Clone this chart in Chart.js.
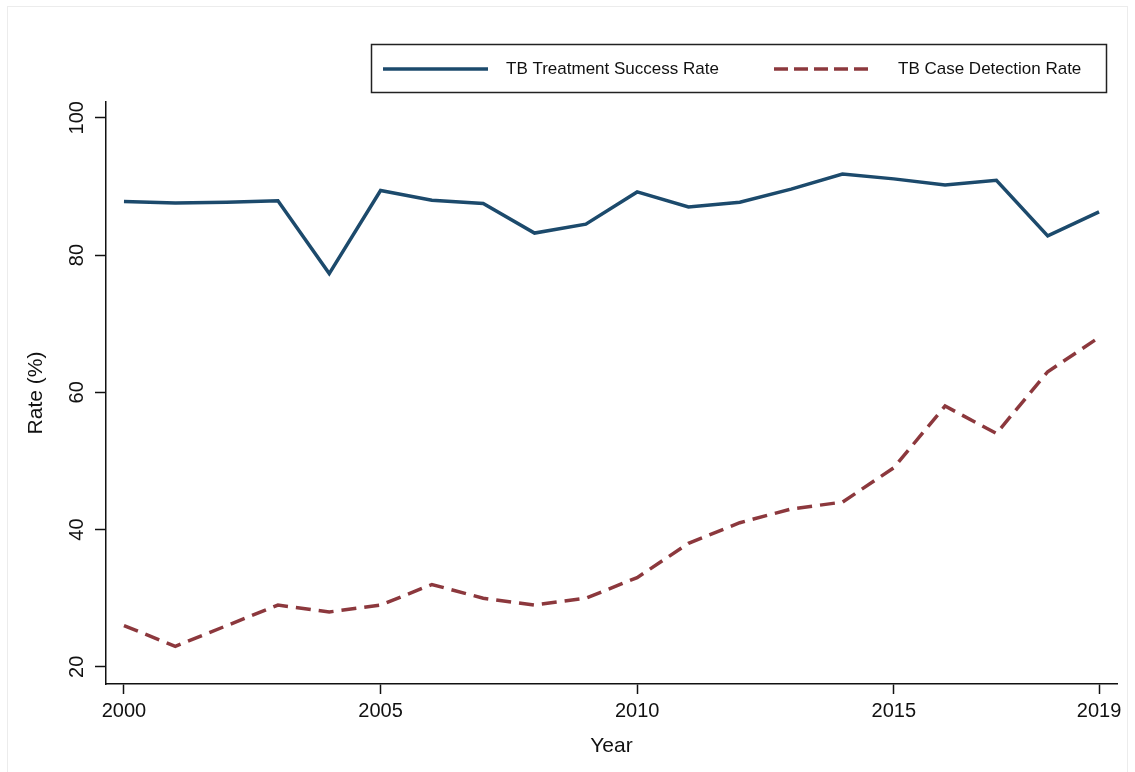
<!DOCTYPE html>
<html>
<head>
<meta charset="utf-8">
<script src="https://cdn.jsdelivr.net/npm/chart.js@4.4.1/dist/chart.umd.min.js"></script>
<style>
  html, body { margin: 0; padding: 0; background: #fff; }
  #wrap { position: relative; width: 1135px; height: 772px; }
  canvas { display: block; }
</style>
</head>
<body>
<div id="wrap"><canvas id="c" width="1135" height="772"></canvas></div>
<script>
const years = [2000,2001,2002,2003,2004,2005,2006,2007,2008,2009,2010,2011,2012,2013,2014,2015,2016,2017,2018,2019];
const treatmentSuccess = [87.8,87.6,87.7,87.9,77.3,89.4,88.0,87.5,83.2,84.5,89.2,87.0,87.7,89.6,91.8,91.1,90.2,90.9,82.8,86.3];
const caseDetection = [26,23,26,29,28,29,32,30,29,30,33,38,41,43,44,49,58,54,63,68];
const xTickValues = [2000,2005,2010,2015,2019];
const yTickValues = [20,40,60,80,100];
const seriesLabels = ['TB Treatment Success Rate','TB Case Detection Rate'];
const seriesColors = ['#1c4a6c','#8c383d'];

const FONT = '"Liberation Sans", Arial, Helvetica, sans-serif';

const toPoints = (vals) => years.map((y, i) => ({x: y, y: vals[i]}));

const customDraw = {
  id: 'customDraw',
  beforeDraw(chart) {
    const ctx = chart.ctx;
    ctx.save();
    ctx.fillStyle = '#fff';
    ctx.fillRect(0, 0, chart.width, chart.height);
    ctx.strokeStyle = '#ececec';
    ctx.lineWidth = 1;
    ctx.strokeRect(7.5, 6.5, 1120, 770);
    ctx.restore();
  },
  afterDraw(chart) {
    const ctx = chart.ctx;
    const ys = chart.scales.y;
    ctx.save();
    ctx.fillStyle = '#111';
    ctx.font = '20px ' + FONT;
    ctx.textAlign = 'center';
    ctx.textBaseline = 'middle';
    yTickValues.forEach(v => {
      const py = ys.getPixelForValue(v);
      ctx.save();
      ctx.translate(77, py);
      ctx.rotate(-Math.PI / 2);
      ctx.fillText(String(v), 0, 0);
      ctx.restore();
    });
    ctx.strokeStyle = '#222';
    ctx.lineWidth = 1.5;
    ctx.strokeRect(371.5, 44.5, 735, 48);
    const ly = 69;
    const items = [
      {x0: 383, x1: 488, tx: 506, dash: []},
      {x0: 774, x1: 868, tx: 898, dash: [14, 6]}
    ];
    items.forEach((it, i) => {
      ctx.beginPath();
      ctx.setLineDash(it.dash);
      ctx.strokeStyle = seriesColors[i];
      ctx.lineWidth = 3.5;
      ctx.moveTo(it.x0, ly);
      ctx.lineTo(it.x1, ly);
      ctx.stroke();
      ctx.setLineDash([]);
      ctx.fillStyle = '#111';
      ctx.font = '17px ' + FONT;
      ctx.textAlign = 'left';
      ctx.textBaseline = 'middle';
      ctx.fillText(seriesLabels[i], it.tx, ly);
    });
    ctx.restore();
  }
};

new Chart(document.getElementById('c'), {
  type: 'line',
  data: {
    datasets: [
      {
        label: seriesLabels[0],
        data: toPoints(treatmentSuccess),
        borderColor: seriesColors[0],
        backgroundColor: seriesColors[0],
        borderWidth: 3.5,
        pointRadius: 0,
        tension: 0,
        fill: false
      },
      {
        label: seriesLabels[1],
        data: toPoints(caseDetection),
        borderColor: seriesColors[1],
        backgroundColor: seriesColors[1],
        borderWidth: 3.5,
        borderDash: [15, 8],
        pointRadius: 0,
        tension: 0,
        fill: false
      }
    ]
  },
  options: {
    responsive: false,
    animation: false,
    devicePixelRatio: 1,
    layout: { padding: { top: 102, right: 18, bottom: 0, left: 0 } },
    plugins: {
      legend: { display: false },
      tooltip: { enabled: false }
    },
    scales: {
      x: {
        type: 'linear',
        min: 1999.65,
        max: 2019.35,
        afterBuildTicks: (s) => { s.ticks = xTickValues.map(v => ({value: v})); },
        afterFit: (s) => { s.height = 88; },
        grid: { drawOnChartArea: false, drawTicks: true, tickLength: 10, color: '#111', tickWidth: 1.5 },
        border: { display: true, color: '#111', width: 1.5 },
        ticks: {
          color: '#111',
          font: { size: 20, family: FONT },
          padding: 5,
          maxRotation: 0,
          autoSkip: false,
          callback: (v) => String(v)
        },
        title: {
          display: true,
          text: 'Year',
          color: '#111',
          font: { size: 21, family: FONT },
          padding: { top: 0, bottom: 13 }
        }
      },
      y: {
        type: 'linear',
        min: 17.5,
        max: 102.3,
        afterBuildTicks: (s) => { s.ticks = yTickValues.map(v => ({value: v})); },
        afterFit: (s) => { s.width = 106; },
        grid: { drawOnChartArea: false, drawTicks: true, tickLength: 11, color: '#111', tickWidth: 1.5 },
        border: { display: true, color: '#111', width: 1.5 },
        ticks: { display: false },
        title: {
          display: true,
          text: 'Rate (%)',
          color: '#111',
          font: { size: 21, family: FONT },
          padding: { top: 24, bottom: 0 }
        }
      }
    }
  },
  plugins: [customDraw]
});
</script>
</body>
</html>
